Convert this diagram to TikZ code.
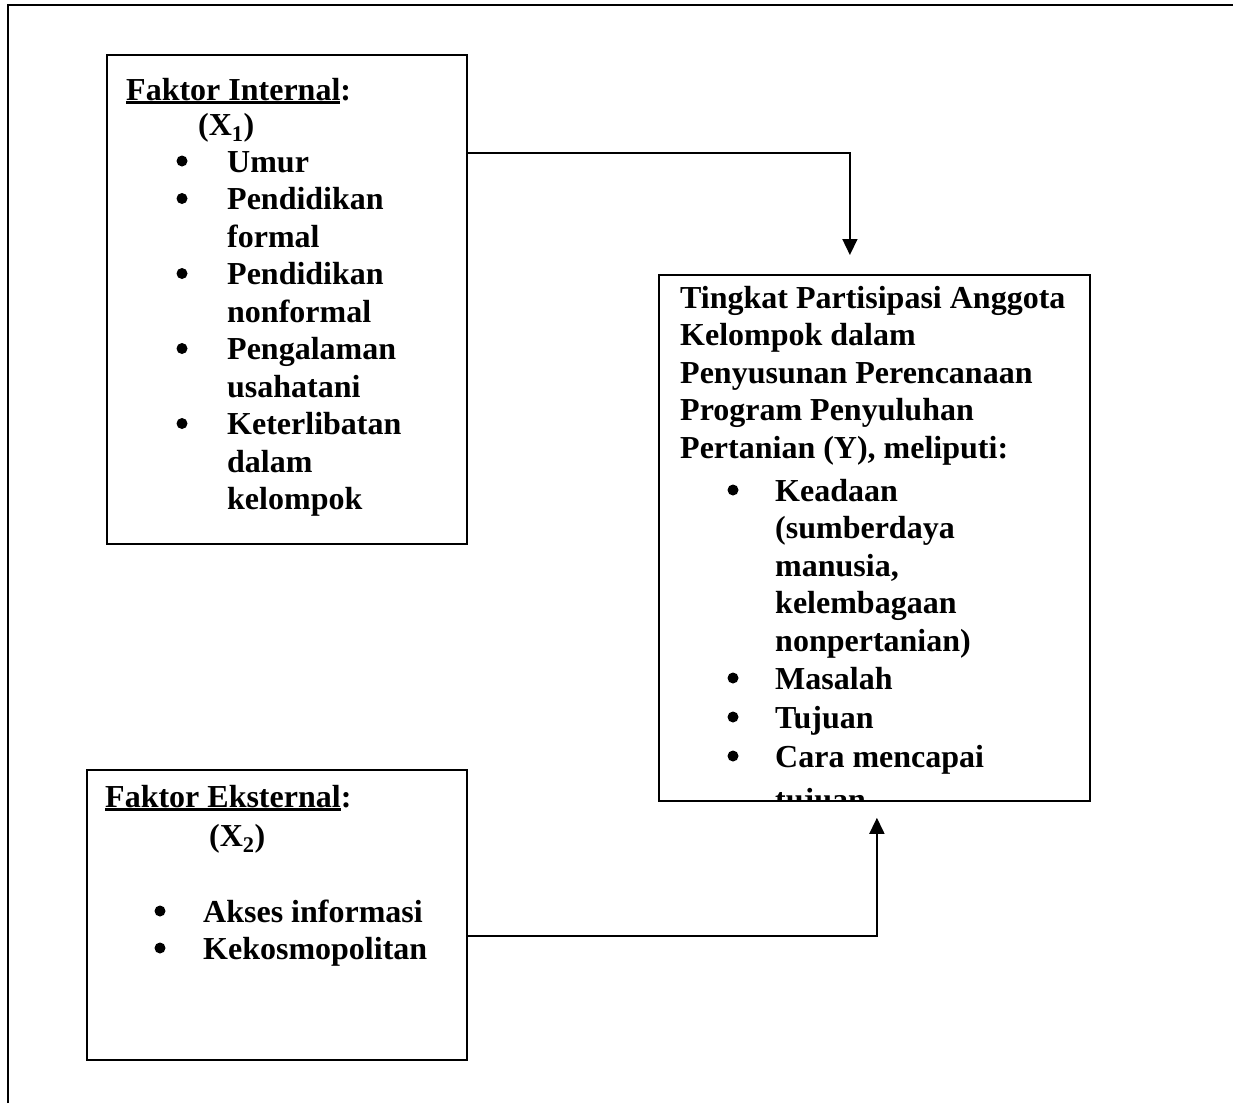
\documentclass[tikz,border=0pt]{standalone}
\usepackage{fontspec}
\setmainfont{Liberation Serif}
\usetikzlibrary{arrows.meta}
\newcommand\garisbawah[1]{\setbox0\hbox{#1}\rlap{\rule[-4pt]{\wd0}{3pt}}\box0}
\tikzset{
  kotak/.style={draw,line width=1.8pt,inner sep=0pt,anchor=north west},
  teks/.style={anchor=base west,inner sep=0pt,font=\fontsize{32}{37.5}\selectfont\bfseries},
  titik/.style={circle,fill,inner sep=0pt,minimum size=11pt},
  panah/.style={->,line width=1.6pt}
}
\begin{document}
\begin{tikzpicture}[x=1pt,y=-1pt,>={Triangle[width=15pt,length=16pt]}]
  \useasboundingbox (0,0) rectangle (1233,1103);
  % bingkai luar
  \draw[line width=2.4pt] (8,1103)--(8,5)--(1233,5);
  % kotak-kotak
  \node[kotak,minimum width=360pt,minimum height=489pt] (internal) at (106,54) {};
  \node[kotak,minimum width=380pt,minimum height=290pt] (eksternal) at (86,769) {};
  \node[kotak,minimum width=431pt,minimum height=526pt] (tingkat) at (658,274) {};
  % faktor internal
  \node[teks] (judulX1) at (126,100) {\garisbawah{Faktor Internal}:};
  \node[teks] (X1) at (198,135) {(X\textsubscript{1})};
  \foreach \y [count=\i] in {172,209.5,284.5,359.5,434.5}
    \node[titik] (ti\i) at (182,\y-11) {};
  \foreach \y/\isi [count=\i] in {172/Umur,209.5/Pendidikan,247/formal,284.5/Pendidikan,
      322/nonformal,359.5/Pengalaman,397/usahatani,434.5/Keterlibatan,472/dalam,509.5/kelompok}
    \node[teks] (xi\i) at (227,\y) {\isi};
  % faktor eksternal
  \node[teks] (judulX2) at (105,807) {\garisbawah{Faktor Eksternal}:};
  \node[teks] (X2) at (209,846) {(X\textsubscript{2})};
  \foreach \y/\isi [count=\i] in {922/Akses informasi,959/Kekosmopolitan}{
    \node[titik] (te\i) at (160,\y-11) {};
    \node[teks] (xe\i) at (203,\y) {\isi};
  }
  % variabel Y
  \foreach \y/\isi [count=\i] in {308/Tingkat Partisipasi Anggota,345.5/Kelompok dalam,
      383/Penyusunan Perencanaan,420.5/Program Penyuluhan,458/{Pertanian (Y), meliputi:}}
    \node[teks] (jy\i) at (680,\y) {\isi};
  \foreach \y [count=\i] in {501,689,728,767}
    \node[titik] (ty\i) at (733,\y-11) {};
  \foreach \y/\isi [count=\i] in {501/Keadaan,538.5/{(sumberdaya},576/{manusia,},613.5/kelembagaan,
      651/{nonpertanian)},689/Masalah,728/Tujuan,767/Cara mencapai}
    \node[teks] (xy\i) at (775,\y) {\isi};
  \begin{scope}
    \clip (658,274) rectangle (1089,799);
    \node[teks] (xy9) at (775,810) {tujuan};
  \end{scope}
  % panah
  \draw[panah,shorten >=19pt] ([yshift=-99pt]internal.north east) -| ([xshift=-24.5pt]tingkat.north);
  \draw[panah,shorten >=16pt] ([yshift=-167pt]eksternal.north east) -| ([xshift=2.5pt]tingkat.south);
\end{tikzpicture}
\end{document}
